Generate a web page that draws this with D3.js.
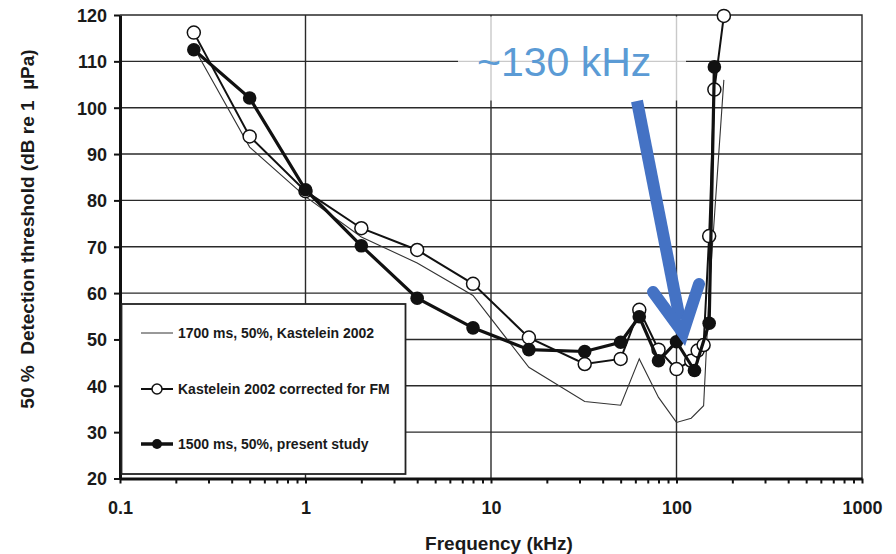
<!DOCTYPE html>
<html>
<head>
<meta charset="utf-8">
<style>
  body { margin: 0; background: #fff; }
  svg { display: block; }
  text { font-family: "Liberation Sans", Arial, sans-serif; }
</style>
</head>
<body>
<script src="https://d3js.org/d3.v7.min.js"></script>
<script>
// thin line, 1700 ms, 50%, Kastelein 2002
const thinFreq = [0.25, 0.5, 1, 2, 4, 8, 16, 32, 50, 63, 80, 100, 120, 140, 150, 180]
const thinThr  = [113, 91.5, 80.8, 72.1, 66.5, 59.5, 44, 36.6, 35.8, 45.8, 37.5, 32.1, 33, 35.7, 60, 106]

// open circles, Kastelein 2002 corrected for FM
const openFreq = [0.25, 0.5, 1, 2, 4, 8, 16, 32, 50, 63, 80, 100, 120, 130, 140, 150, 160, 180]
const openThr  = [116.2, 93.8, 82, 74, 69.3, 62, 50.4, 44.7, 45.8, 56.4, 47.8, 43.6, 45.4, 47.6, 48.8, 72.3, 103.9, 119.8]

// filled circles, 1500 ms, 50%, present study
const fillFreq = [0.25, 0.5, 1, 2, 4, 8, 16, 32, 50, 63, 80, 100, 125, 150, 160]
const fillThr  = [112.5, 102.1, 82.3, 70.2, 58.9, 52.5, 47.8, 47.4, 49.4, 54.9, 45.4, 49.5, 43.3, 53.5, 108.8]

const yTicks = [20, 30, 40, 50, 60, 70, 80, 90, 100, 110, 120]
const xDecades = [0.1, 1, 10, 100, 1000]
const legendLabels = ["1700 ms, 50%, Kastelein 2002", "Kastelein 2002 corrected for FM", "1500 ms, 50%, present study"]

const W = 896, H = 554
const m = {left: 120, right: 34, top: 15, bottom: 76}
const x = d3.scaleLog().domain([0.1, 1000]).range([m.left, W - m.right])
const y = d3.scaleLinear().domain([20, 120]).range([H - m.bottom + 0.5, m.top])

const svg = d3.select("body").append("svg").attr("width", W).attr("height", H)

// grid
svg.append("g").selectAll("line").data(yTicks.slice(1, -1)).join("line")
  .attr("x1", x(0.1)).attr("x2", x(1000))
  .attr("y1", d => y(d)).attr("y2", d => y(d))
  .attr("stroke", "#2a2a2a").attr("stroke-width", 1.4)
svg.append("g").selectAll("line").data([1, 10, 100]).join("line")
  .attr("x1", d => x(d)).attr("x2", d => x(d))
  .attr("y1", y(20)).attr("y2", y(120))
  .attr("stroke", "#2a2a2a").attr("stroke-width", 1.4)
// top / right border
svg.append("path")
  .attr("d", `M${x(0.1)},${y(120)}H${x(1000)}V${y(20)}`)
  .attr("fill", "none").attr("stroke", "#2a2a2a").attr("stroke-width", 1.4)

// axes
const minor = []
for (let e = -1; e < 3; e++) for (let k = 1; k < 10; k++) minor.push(k * Math.pow(10, e))
minor.push(1000)

const xAxis = svg.append("g").attr("transform", `translate(0,${y(20)})`)
  .call(d3.axisBottom(x).tickValues(minor).tickSize(5).tickSizeOuter(0)
    .tickFormat(d => xDecades.includes(d) ? String(d) : ""))
xAxis.select(".domain").attr("stroke", "#111").attr("stroke-width", 3)
xAxis.selectAll(".tick line").attr("stroke", "#111").attr("stroke-width", 2)
xAxis.selectAll(".tick text").attr("font-size", 18).attr("font-weight", "bold")
  .attr("fill", "#1a1a1a").attr("dy", 0).attr("y", 35)

const yAxis = svg.append("g").attr("transform", `translate(${x(0.1)},0)`)
  .call(d3.axisLeft(y).tickValues(yTicks).tickSize(6).tickSizeOuter(0))
yAxis.select(".domain").attr("stroke", "#111").attr("stroke-width", 3)
yAxis.selectAll(".tick line").attr("stroke", "#111").attr("stroke-width", 2)
yAxis.selectAll(".tick text").attr("font-size", 18).attr("font-weight", "bold")
  .attr("fill", "#1a1a1a").attr("x", -13).attr("dy", "0.36em")

svg.append("text").attr("x", 499).attr("y", 550).attr("text-anchor", "middle")
  .attr("font-size", 19).attr("font-weight", "bold").attr("fill", "#1a1a1a")
  .text("Frequency (kHz)")
svg.append("text").attr("transform", "translate(34,229) rotate(-90)").attr("text-anchor", "middle")
  .attr("font-size", 19).attr("font-weight", "bold").attr("fill", "#1a1a1a")
  .style("white-space", "pre")
  .text("50 %  Detection threshold (dB re 1  µPa)")

// legend
const lg = svg.append("g")
lg.append("rect").attr("x", 121.5).attr("y", 304).attr("width", 284).attr("height", 170)
  .attr("fill", "#fff").attr("stroke", "#222").attr("stroke-width", 1.8)
const rows = [333, 389, 444]
lg.append("line").attr("x1", 141).attr("x2", 173).attr("y1", rows[0]).attr("y2", rows[0])
  .attr("stroke", "#333").attr("stroke-width", 1)
lg.append("line").attr("x1", 141).attr("x2", 173).attr("y1", rows[1]).attr("y2", rows[1])
  .attr("stroke", "#111").attr("stroke-width", 2)
lg.append("circle").attr("cx", 157).attr("cy", rows[1]).attr("r", 5)
  .attr("fill", "#fff").attr("stroke", "#111").attr("stroke-width", 1.5)
lg.append("line").attr("x1", 141).attr("x2", 173).attr("y1", rows[2]).attr("y2", rows[2])
  .attr("stroke", "#111").attr("stroke-width", 3.5)
lg.append("circle").attr("cx", 157).attr("cy", rows[2]).attr("r", 5).attr("fill", "#111")
lg.selectAll("text.lab").data(legendLabels).join("text")
  .attr("x", 178).attr("y", (d, i) => rows[i] + 5)
  .attr("font-size", 14).attr("font-weight", "bold").attr("fill", "#1a1a1a")
  .text(d => d)

// series
const line = d3.line().x(d => x(d[0])).y(d => y(d[1]))
const thin = thinFreq.map((f, i) => [f, thinThr[i]])
const open = openFreq.map((f, i) => [f, openThr[i]])
const fill = fillFreq.map((f, i) => [f, fillThr[i]])

svg.append("path").attr("d", line(thin)).attr("fill", "none")
  .attr("stroke", "#333").attr("stroke-width", 1.1)
svg.append("path").attr("d", line(open)).attr("fill", "none")
  .attr("stroke", "#111").attr("stroke-width", 2)
svg.append("g").selectAll("circle").data(open).join("circle")
  .attr("cx", d => x(d[0])).attr("cy", d => y(d[1])).attr("r", 6.5)
  .attr("fill", "#fff").attr("stroke", "#111").attr("stroke-width", 1.5)
svg.append("path").attr("d", line(fill)).attr("fill", "none")
  .attr("stroke", "#111").attr("stroke-width", 3.2)
svg.append("g").selectAll("circle").data(fill).join("circle")
  .attr("cx", d => x(d[0])).attr("cy", d => y(d[1])).attr("r", 6.8)
  .attr("fill", "#111")

// annotation
svg.append("rect").attr("x", 458).attr("y", 16.5).attr("width", 228).attr("height", 84)
  .attr("fill", "#fff").attr("opacity", 0.75)
svg.append("text").attr("x", 477).attr("y", 76).attr("font-family", "'Open Sans', sans-serif")
  .attr("font-size", 41).attr("fill", "#5B9BD5").text("~130 kHz")
svg.append("path").attr("d", "M637,101 L680,320")
  .attr("stroke", "#4472C4").attr("stroke-width", 12).attr("fill", "none")
svg.append("path").attr("d", "M653,292 L683,333 L699,284")
  .attr("stroke", "#4472C4").attr("stroke-width", 12).attr("fill", "none")
  .attr("stroke-linecap", "round").attr("stroke-linejoin", "miter")
</script>
</body>
</html>
